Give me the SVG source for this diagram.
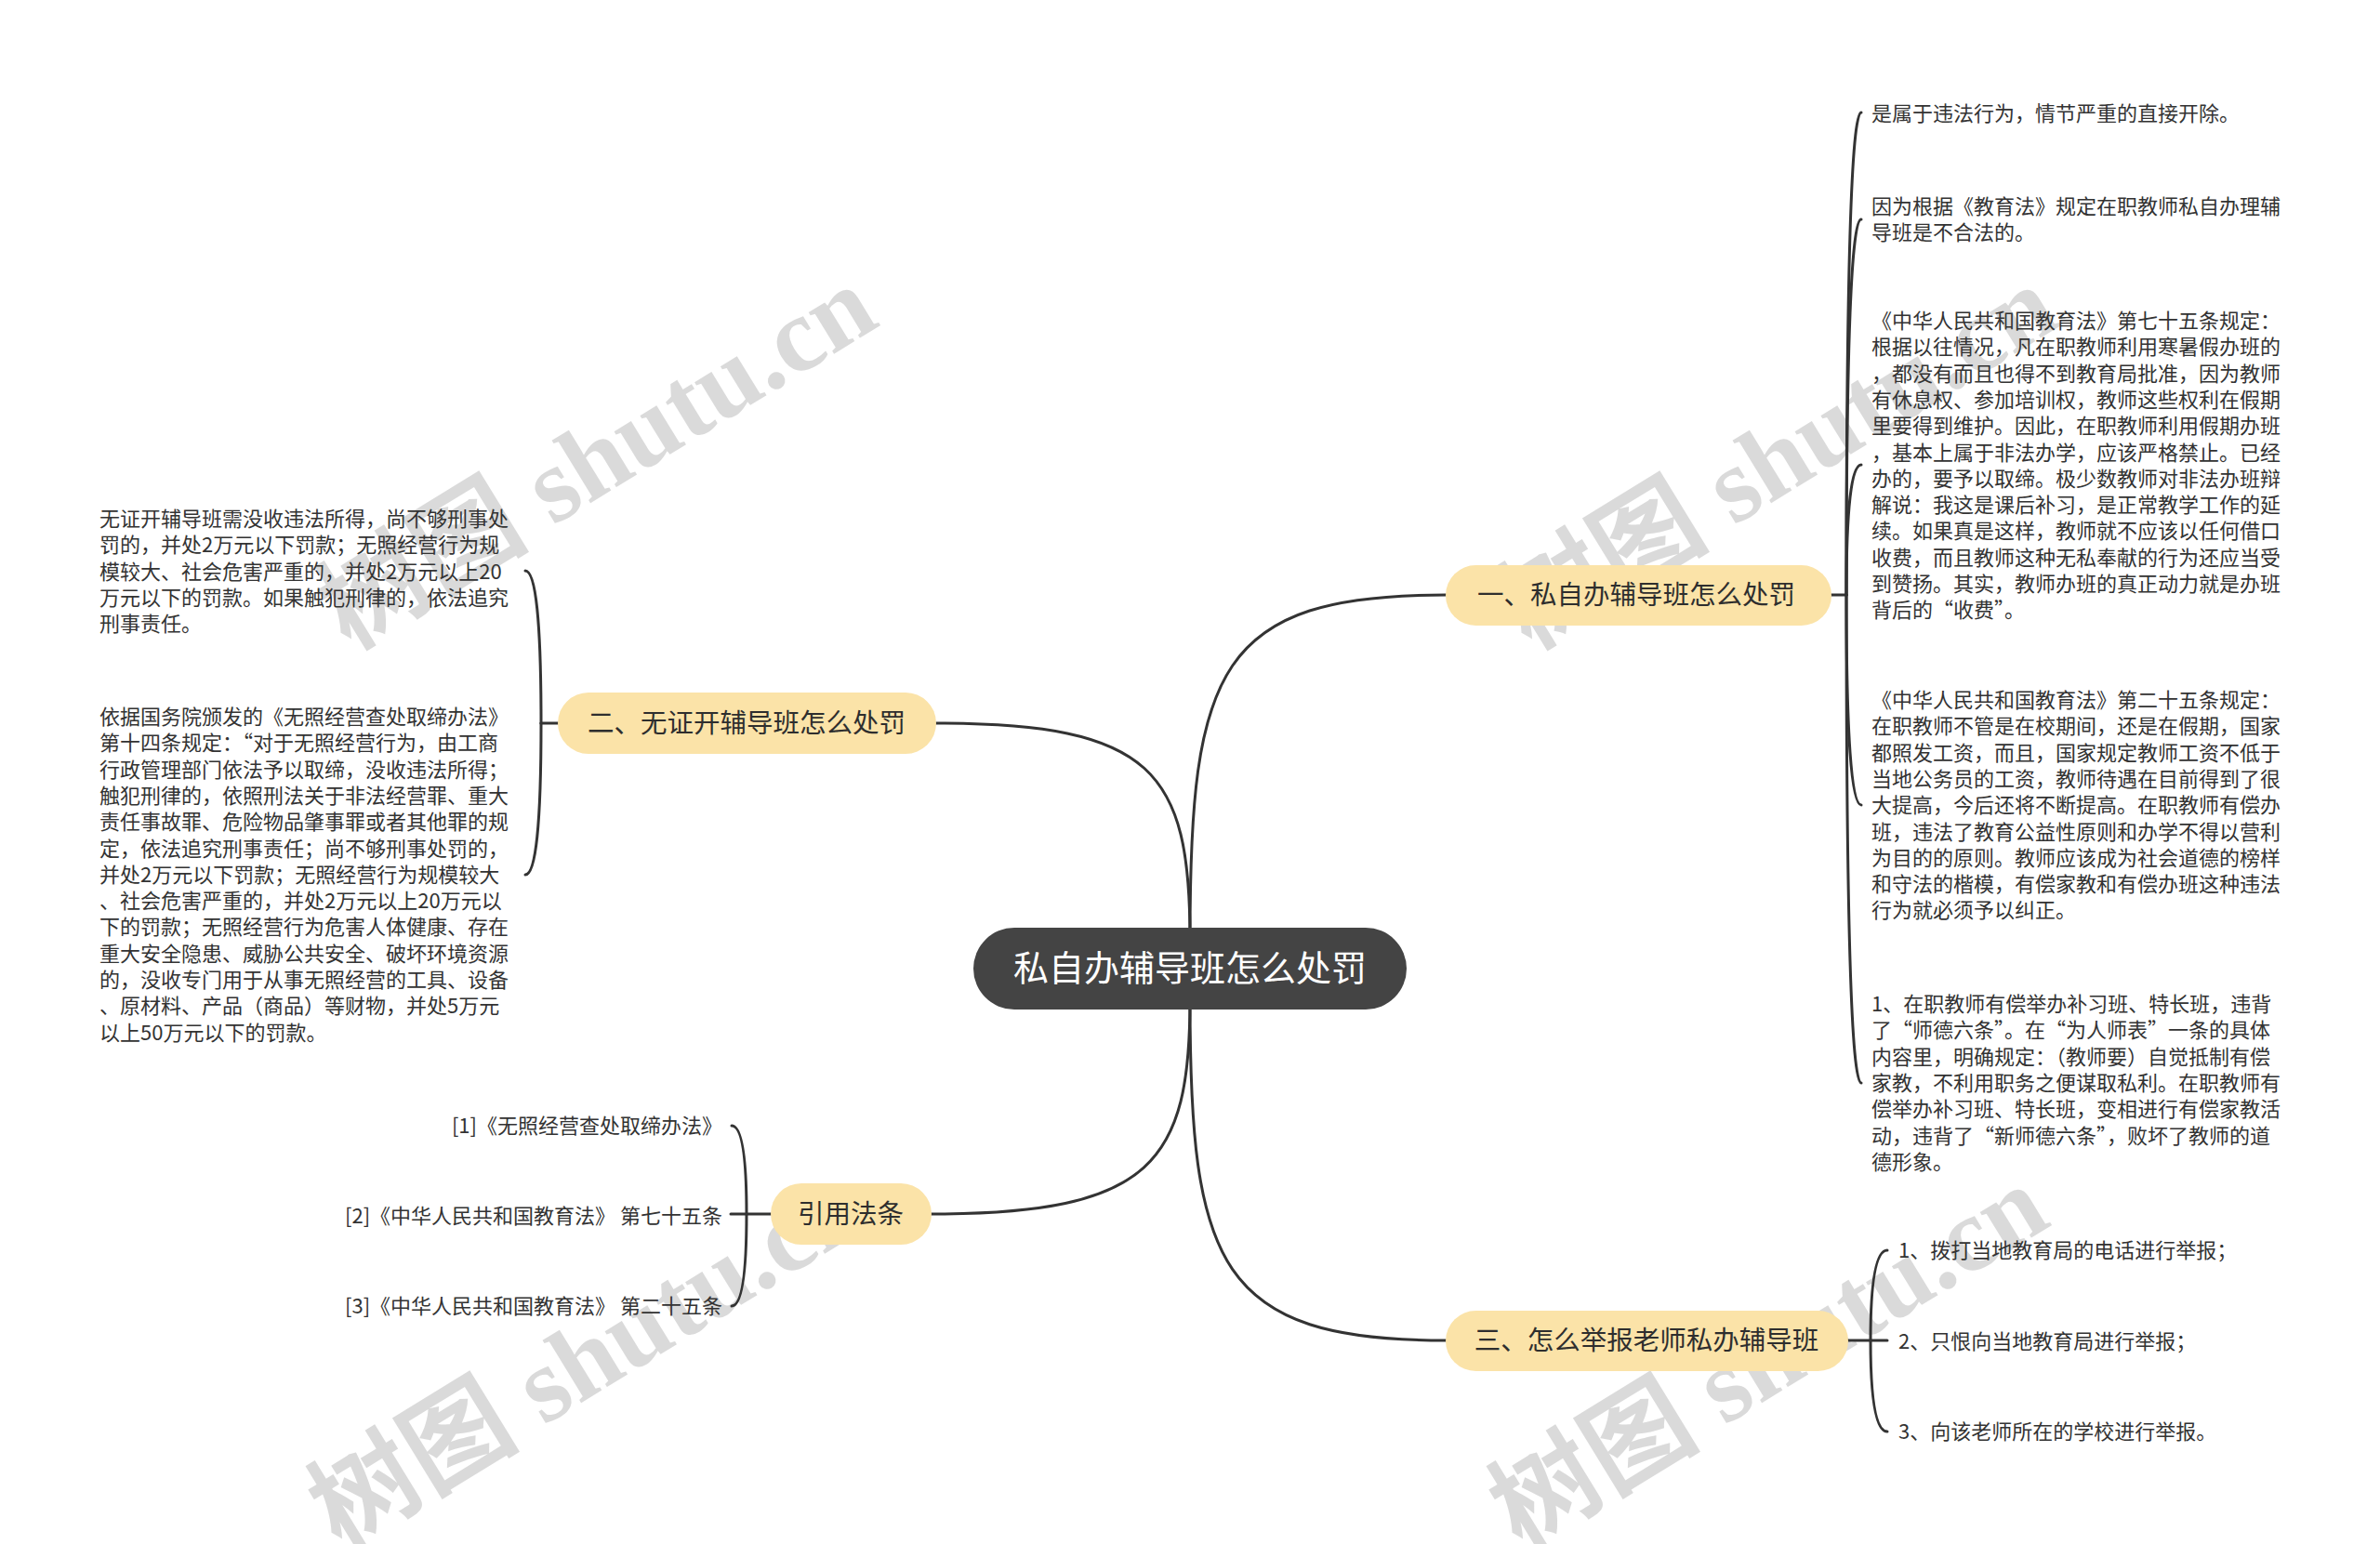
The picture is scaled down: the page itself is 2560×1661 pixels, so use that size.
<svg xmlns="http://www.w3.org/2000/svg" width="2560" height="1661" viewBox="0 0 2560 1661">
<style>
.bg{fill:#ffffff}
.wm{font-family:"Liberation Serif","Noto Sans CJK SC",serif;font-size:114px;font-weight:bold;fill:#d4d4d4;fill-opacity:0.85}
.ln{fill:none;stroke:#333333;stroke-width:3;stroke-linecap:round}
.root rect{fill:#444444}
.root text{font-family:"Noto Sans CJK SC","Noto Sans",sans-serif;font-size:38px;fill:#ffffff;text-anchor:middle}
.br rect{fill:#fbe3a8}
.br text{font-family:"Noto Sans CJK SC","Noto Sans",sans-serif;font-size:28.5px;fill:#2e2e2e;text-anchor:middle}
.lf text{font-family:"Noto Sans CJK SC","Noto Sans",sans-serif;font-size:22px;fill:#333333}
.end text{text-anchor:end}
</style>
<rect class="bg" x="0" y="0" width="2560" height="1661"/>
<g id="watermarks">
<text class="wm" transform="translate(376,700) rotate(-31.5)">树图 shutu.cn</text>
<text class="wm" transform="translate(1646,700) rotate(-31.5)">树图 shutu.cn</text>
<text class="wm" transform="translate(366,1668) rotate(-31.5)">树图 shutu.cn</text>
<text class="wm" transform="translate(1636,1668) rotate(-31.5)">树图 shutu.cn</text>
</g>
<g id="connectors">
<path class="ln" d="M1280 1010 C1280 720 1310 640 1555 640"/>
<path class="ln" d="M1280 1010 C1280 830 1240 778 1007 778"/>
<path class="ln" d="M1280 1075 C1280 1250 1240 1306 1002 1306"/>
<path class="ln" d="M1280 1075 C1280 1360 1310 1442 1555 1442"/>
<path class="ln" d="M1970 640 L1986 640"/>
<path class="ln" d="M1986 640 Q1986 121 2002 121"/>
<path class="ln" d="M1986 640 Q1986 236 2002 236"/>
<path class="ln" d="M1986 640 Q1986 500 2002 500"/>
<path class="ln" d="M1986 640 Q1986 866 2002 866"/>
<path class="ln" d="M1986 640 Q1986 1165 2002 1165"/>
<path class="ln" d="M600 778 L582 778"/>
<path class="ln" d="M582 778 Q582 614 565 614"/>
<path class="ln" d="M582 778 Q582 941 565 941"/>
<path class="ln" d="M829 1306 L786 1306"/>
<path class="ln" d="M803 1306 Q803 1211 787 1211"/>
<path class="ln" d="M803 1306 Q803 1405 787 1405"/>
<path class="ln" d="M1988 1442 L2030 1442"/>
<path class="ln" d="M2012 1442 Q2012 1345 2030 1345"/>
<path class="ln" d="M2012 1442 Q2012 1540 2030 1540"/>
</g>
<g id="root" class="root">
<rect x="1047" y="998" width="466" height="88" rx="44"/>
<text x="1280" y="1055">私自办辅导班怎么处罚</text>
</g>
<g id="b1" class="br">
<rect x="1555" y="608" width="415" height="65" rx="32.5"/>
<text x="1760" y="650">一、私自办辅导班怎么处罚</text>
</g>
<g id="b2" class="br">
<rect x="600" y="745" width="407" height="66" rx="33"/>
<text x="803" y="788">二、无证开辅导班怎么处罚</text>
</g>
<g id="b3" class="br">
<rect x="1555" y="1410" width="433" height="65" rx="32.5"/>
<text x="1771" y="1452">三、怎么举报老师私办辅导班</text>
</g>
<g id="b4" class="br">
<rect x="829" y="1273" width="173" height="66" rx="33"/>
<text x="915" y="1316">引用法条</text>
</g>
<g id="b1c1" class="lf">
<text x="2013" y="130">是属于违法行为，情节严重的直接开除。</text>
</g>
<g id="b1c2" class="lf">
<text x="2013" y="230">因为根据《教育法》规定在职教师私自办理辅</text>
<text x="2013" y="258">导班是不合法的。</text>
</g>
<g id="b1c3" class="lf">
<text x="2013" y="353">《中华人民共和国教育法》第七十五条规定：</text>
<text x="2013" y="381.3">根据以往情况，凡在职教师利用寒暑假办班的</text>
<text x="2013" y="409.6">，都没有而且也得不到教育局批准，因为教师</text>
<text x="2013" y="437.9">有休息权、参加培训权，教师这些权利在假期</text>
<text x="2013" y="466.2">里要得到维护。因此，在职教师利用假期办班</text>
<text x="2013" y="494.5">，基本上属于非法办学，应该严格禁止。已经</text>
<text x="2013" y="522.8">办的，要予以取缔。极少数教师对非法办班辩</text>
<text x="2013" y="551.1">解说：我这是课后补习，是正常教学工作的延</text>
<text x="2013" y="579.4">续。如果真是这样，教师就不应该以任何借口</text>
<text x="2013" y="607.7">收费，而且教师这种无私奉献的行为还应当受</text>
<text x="2013" y="636">到赞扬。其实，教师办班的真正动力就是办班</text>
<text x="2013" y="664.3">背后的“收费”。</text>
</g>
<g id="b1c4" class="lf">
<text x="2013" y="761">《中华人民共和国教育法》第二十五条规定：</text>
<text x="2013" y="789.3">在职教师不管是在校期间，还是在假期，国家</text>
<text x="2013" y="817.6">都照发工资，而且，国家规定教师工资不低于</text>
<text x="2013" y="845.9">当地公务员的工资，教师待遇在目前得到了很</text>
<text x="2013" y="874.2">大提高，今后还将不断提高。在职教师有偿办</text>
<text x="2013" y="902.5">班，违法了教育公益性原则和办学不得以营利</text>
<text x="2013" y="930.8">为目的的原则。教师应该成为社会道德的榜样</text>
<text x="2013" y="959.1">和守法的楷模，有偿家教和有偿办班这种违法</text>
<text x="2013" y="987.4">行为就必须予以纠正。</text>
</g>
<g id="b1c5" class="lf">
<text x="2013" y="1088">1、在职教师有偿举办补习班、特长班，违背</text>
<text x="2013" y="1116.3">了“师德六条”。在“为人师表”一条的具体</text>
<text x="2013" y="1144.6">内容里，明确规定：（教师要）自觉抵制有偿</text>
<text x="2013" y="1172.9">家教，不利用职务之便谋取私利。在职教师有</text>
<text x="2013" y="1201.2">偿举办补习班、特长班，变相进行有偿家教活</text>
<text x="2013" y="1229.5">动，违背了“新师德六条”，败坏了教师的道</text>
<text x="2013" y="1257.8">德形象。</text>
</g>
<g id="b2c1" class="lf">
<text x="107" y="566">无证开辅导班需没收违法所得，尚不够刑事处</text>
<text x="107" y="594.3">罚的，并处2万元以下罚款；无照经营行为规</text>
<text x="107" y="622.6">模较大、社会危害严重的，并处2万元以上20</text>
<text x="107" y="650.9">万元以下的罚款。如果触犯刑律的，依法追究</text>
<text x="107" y="679.2">刑事责任。</text>
</g>
<g id="b2c2" class="lf">
<text x="107" y="779">依据国务院颁发的《无照经营查处取缔办法》</text>
<text x="107" y="807.3">第十四条规定：“对于无照经营行为，由工商</text>
<text x="107" y="835.6">行政管理部门依法予以取缔，没收违法所得；</text>
<text x="107" y="863.9">触犯刑律的，依照刑法关于非法经营罪、重大</text>
<text x="107" y="892.2">责任事故罪、危险物品肇事罪或者其他罪的规</text>
<text x="107" y="920.5">定，依法追究刑事责任；尚不够刑事处罚的，</text>
<text x="107" y="948.8">并处2万元以下罚款；无照经营行为规模较大</text>
<text x="107" y="977.1">、社会危害严重的，并处2万元以上20万元以</text>
<text x="107" y="1005.4">下的罚款；无照经营行为危害人体健康、存在</text>
<text x="107" y="1033.7">重大安全隐患、威胁公共安全、破坏环境资源</text>
<text x="107" y="1062">的，没收专门用于从事无照经营的工具、设备</text>
<text x="107" y="1090.3">、原材料、产品（商品）等财物，并处5万元</text>
<text x="107" y="1118.6">以上50万元以下的罚款。</text>
</g>
<g id="b3c1" class="lf"><text x="2042" y="1353">1、拨打当地教育局的电话进行举报；</text></g>
<g id="b3c2" class="lf"><text x="2042" y="1451">2、只恨向当地教育局进行举报；</text></g>
<g id="b3c3" class="lf"><text x="2042" y="1548">3、向该老师所在的学校进行举报。</text></g>
<g id="b4c1" class="lf end"><text x="777" y="1219">[1]《无照经营查处取缔办法》</text></g>
<g id="b4c2" class="lf end"><text x="777" y="1316">[2]《中华人民共和国教育法》 第七十五条</text></g>
<g id="b4c3" class="lf end"><text x="777" y="1413">[3]《中华人民共和国教育法》 第二十五条</text></g>
</svg>
